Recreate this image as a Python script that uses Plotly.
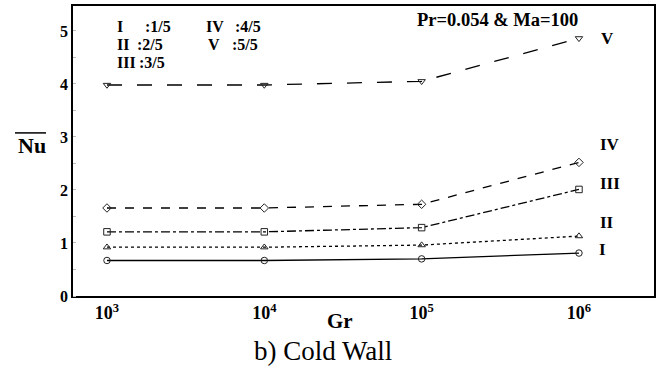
import plotly.graph_objects as go

# Grashof numbers (x) and average Nusselt number for each case
gr = [1e3, 1e4, 1e5, 1e6]
nu_I = [0.67, 0.67, 0.70, 0.81]
nu_II = [0.92, 0.92, 0.96, 1.13]
nu_III = [1.21, 1.21, 1.29, 2.01]
nu_IV = [1.66, 1.66, 1.73, 2.52]
nu_V = [3.98, 3.98, 4.05, 4.86]

case_names = ["I", "II", "III", "IV", "V"]
case_values = [nu_I, nu_II, nu_III, nu_IV, nu_V]
case_symbols = ["circle-open", "triangle-up-open", "square-open", "diamond-open", "triangle-down-open"]
case_dashes = ["solid", "dot", "dashdot", "dash", "longdash"]
# label positions beside the right end of each curve (log10 Gr, Nu)
label_x = [6.15, 6.18, 6.20, 6.20, 6.18]
label_y = [0.87, 1.39, 2.12, 2.86, 4.86]

# wall-ratio key: roman numeral, ratio text
key_roman = ["I", "II", "III", "IV", "V"]
key_ratio = [":1/5", ":2/5", ":3/5", ":4/5", ":5/5"]

x_tickvals = [1e3, 1e4, 1e5, 1e6]
x_ticktext = ["10<sup>3</sup>", "10<sup>4</sup>", "10<sup>5</sup>", "10<sup>6</sup>"]
y_tickvals = [0, 1, 2, 3, 4, 5]

SERIF = "Liberation Serif"

# plot-area geometry in pixels, used to place the free text
L, T, W, H = 73, 4, 581, 292.5


def px(x):
    return (x - L) / W


def py(y):
    return 1 - (y - T) / H


def bold(size):
    return dict(family=SERIF, size=size, color="black", weight="bold")


fig = go.Figure()
for name, vals, sym, dash in zip(case_names, case_values, case_symbols, case_dashes):
    fig.add_trace(go.Scatter(
        x=gr, y=vals, mode="lines+markers", name=name,
        line=dict(color="black", width=1.3, dash=dash),
        marker=dict(symbol=sym, size=6.5, color="#222222", line=dict(width=1)),
        showlegend=False,
    ))

annotations = []
for name, lx, ly in zip(case_names, label_x, label_y):
    annotations.append(dict(
        x=lx, y=ly, xref="x", yref="y", text=f"<b>{name}</b>", showarrow=False,
        font=bold(17), xanchor="center", yanchor="middle",
    ))

# key layout (pixel positions of the numeral, the ratio and the row)
key_rx = [115, 115, 115, 204, 206]
key_fx = [143, 135, 137, 233, 230]
key_y = [25, 43, 61, 25, 43]
for roman, ratio, rx, fx, ky in zip(key_roman, key_ratio, key_rx, key_fx, key_y):
    annotations.append(dict(
        x=px(rx), y=py(ky), xref="paper", yref="paper", text=f"<b>{roman}</b>",
        showarrow=False, xanchor="left", yanchor="middle", font=bold(16),
    ))
    annotations.append(dict(
        x=px(fx), y=py(ky), xref="paper", yref="paper", text=f"<b>{ratio}</b>",
        showarrow=False, xanchor="left", yanchor="middle", font=bold(16),
    ))

annotations.append(dict(
    x=px(497), y=py(18), xref="paper", yref="paper",
    text="<b>Pr=0.054 &amp; Ma=100</b>", showarrow=False,
    xanchor="center", yanchor="middle", font=bold(18.5),
))

# y-axis title with overbar
annotations.append(dict(
    x=px(32), y=py(145), xref="paper", yref="paper", text="<b>Nu</b>",
    showarrow=False, xanchor="center", yanchor="middle", font=bold(22),
))
# x-axis title
annotations.append(dict(
    x=px(340), y=py(322), xref="paper", yref="paper", text="<b>Gr</b>",
    showarrow=False, xanchor="center", yanchor="middle", font=bold(21),
))
# caption
annotations.append(dict(
    x=px(323), y=py(352), xref="paper", yref="paper", text="b) Cold Wall",
    showarrow=False, xanchor="center", yanchor="middle",
    font=dict(family=SERIF, size=27, color="black"),
))

shapes = [dict(
    type="line", xref="paper", yref="paper",
    x0=px(15), x1=px(46), y0=py(132), y1=py(132),
    line=dict(color="black", width=1.5),
)]

fig.update_layout(
    width=665, height=371,
    margin=dict(l=73, r=11, t=4, b=75),
    paper_bgcolor="white", plot_bgcolor="white",
    font=dict(family=SERIF, color="black"),
    annotations=annotations, shapes=shapes,
    xaxis=dict(
        type="log", range=[2.784, 6.477],
        tickvals=x_tickvals, ticktext=x_ticktext,
        tickfont=bold(18),
        showgrid=False, zeroline=False,
        showline=True, linecolor="black", linewidth=1.5, mirror=True,
        ticks="", ticklen=0,
    ),
    yaxis=dict(
        range=[0, 5.47], tickvals=y_tickvals,
        tickfont=bold(16),
        showgrid=False, zeroline=False,
        showline=True, linecolor="black", linewidth=1.5, mirror=True,
        ticks="", ticklen=0,
        minor=dict(dtick=0.5, ticks="inside", ticklen=3, tickcolor="#bbbbbb", tickwidth=1),
    ),
)

fig.write_html("out.html")
